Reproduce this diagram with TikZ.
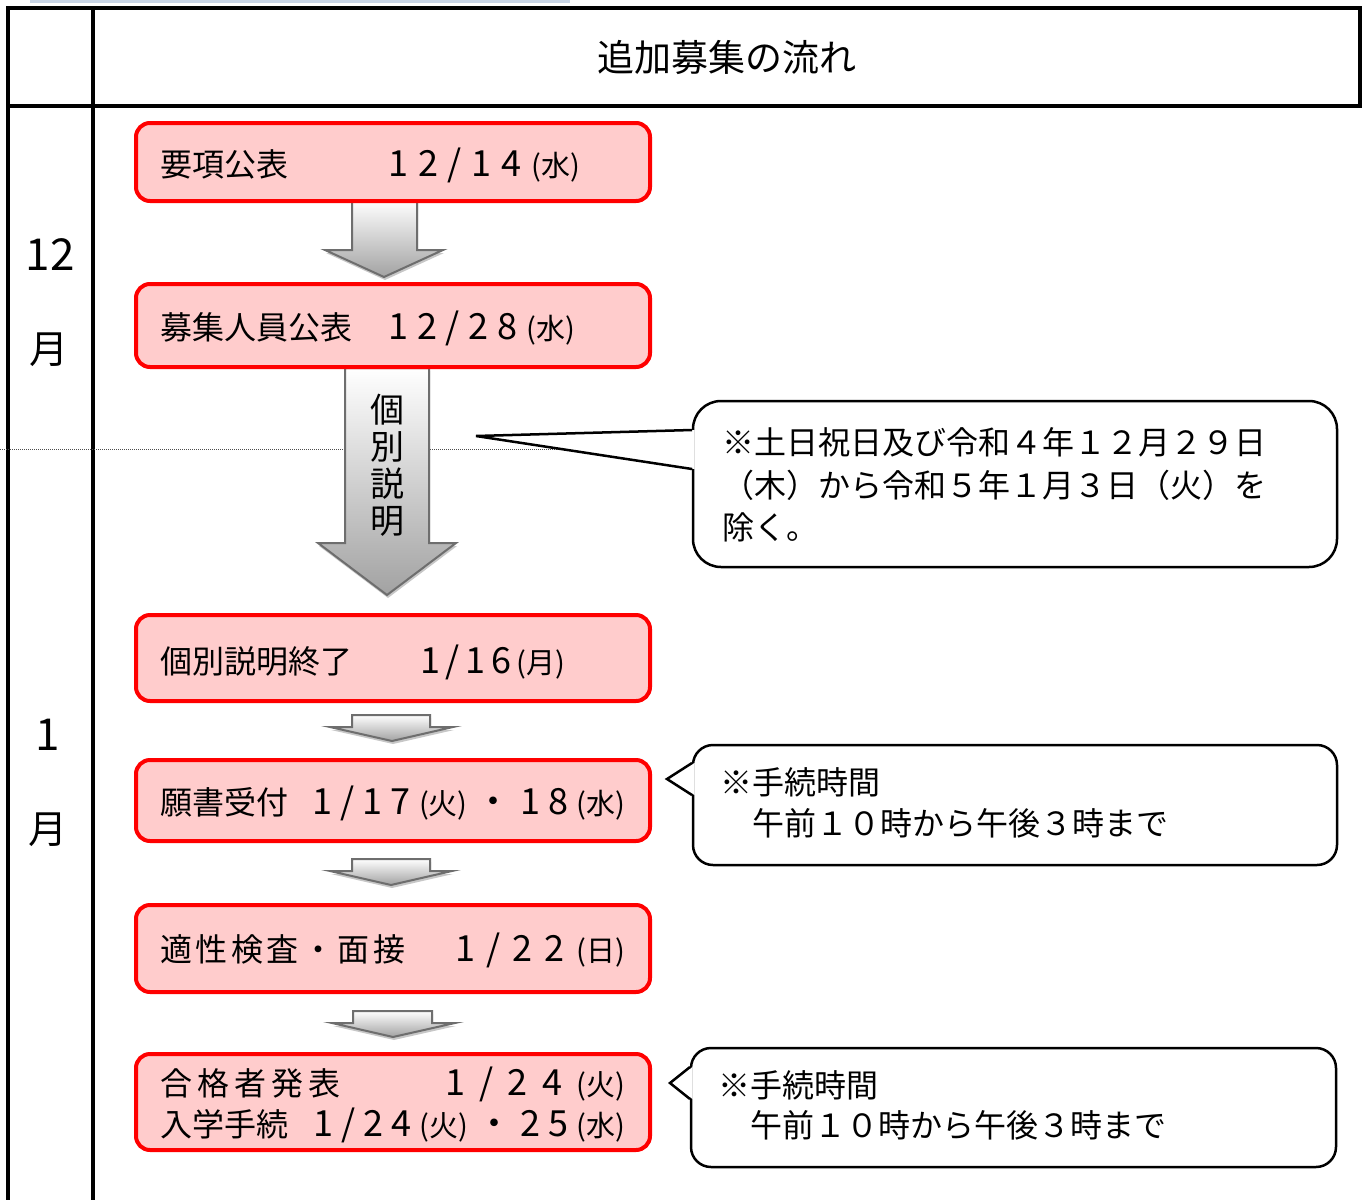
\documentclass[tikz,border=0pt]{standalone}
\usepackage{fontspec}
\setmainfont{Noto Sans CJK JP}
\usetikzlibrary{shadows}
\definecolor{pinkfill}{HTML}{FFCCCC}
\definecolor{boxred}{HTML}{FF0000}
\definecolor{arrowedge}{HTML}{6E6E6E}
\definecolor{arrowbot}{HTML}{A2A2A2}
\definecolor{topbar}{HTML}{C9D5E6}
\newcommand\spreadto[2]{\makebox[#1][s]{\fontsize{36}{38}\selectfont #2}}
\newcommand\pday[1]{{\fontsize{29}{30}\selectfont(#1)}}
\begin{document}
\begin{tikzpicture}[x=1pt,y=-1pt,
  redbox/.style={draw=boxred, line width=4pt, fill=pinkfill, rounded corners=14pt, minimum width=514pt, inner sep=0pt},
  txt/.style={anchor=base west, inner sep=0pt, font=\fontsize{32}{38}\selectfont},
  calloutbox/.style={draw=black, line width=2.5pt, fill=white, inner sep=0pt},
  pointer/.style={draw=black, line width=2.5pt, line join=miter},
  blockarrow/.style={top color=white, bottom color=arrowbot, draw=arrowedge, line width=2pt, line join=miter,
     drop shadow={shadow xshift=1pt, shadow yshift=-3pt, opacity=0.22, fill=black}},
  monthnum/.style={inner sep=0pt, font=\fontsize{44}{44}\selectfont},
  monthlbl/.style={inner sep=0pt, font=\fontsize{39}{40}\selectfont},
  tableline/.style={line width=4pt, line cap=rect}
]
\useasboundingbox (0,0) rectangle (1369,1200);
\fill[white] (0,0) rectangle (1369,1200);

% faint bar at top
\draw[topbar, line width=3pt] (30,1) -- (570,1);

% table
\draw[tableline] (8,1200) -- (8,8) -- (1360,8) -- (1360,106);
\draw[tableline] (8,106) -- (1360,106);
\draw[tableline] (93,8) -- (93,1200);

% dotted month divider
\draw[line width=1pt, dash pattern=on 1pt off 1pt, black!70] (0,449) -- (565,449);

% title
\node[anchor=base, inner sep=0pt, font=\fontsize{37}{40}\selectfont] (title) at (727,71) {追加募集の流れ};

% month labels
\node[monthnum] (m12a) at (50,255) {12};
\node[monthlbl] (m12b) at (49,350) {月};
\node[monthnum] (m1a) at (48,735) {1};
\node[monthlbl] (m1b) at (48,830) {月};

% block arrows
\draw[blockarrow] (352,200) -- (417,200) -- (417,250) -- (443,250) -- (384,277) -- (325,250) -- (352,250) -- cycle;
\draw[blockarrow] (345,368) -- (429,368) -- (429,543) -- (456,543) -- (387,595) -- (318,543) -- (345,543) -- cycle;
\draw[blockarrow] (352,715) -- (430,715) -- (430,727) -- (453,727) -- (392,741) -- (330,727) -- (352,727) -- cycle;
\draw[blockarrow] (352,859) -- (430,859) -- (430,871) -- (452,871) -- (391,885) -- (330,871) -- (352,871) -- cycle;
\draw[blockarrow] (353,1011) -- (432,1011) -- (432,1023) -- (455,1023) -- (393,1037) -- (332,1023) -- (353,1023) -- cycle;

\node[align=center, inner sep=0pt, font=\fontsize{34}{37}\selectfont] (vtext) at (387,465) {個\\別\\説\\明};

% red boxes
\node[redbox, minimum height=78pt] (b1) at (393,162) {};
\node[redbox, minimum height=83pt] (b2) at (393,325.5) {};
\node[redbox, minimum height=86pt] (b3) at (393,658) {};
\node[redbox, minimum height=81pt] (b4) at (393,800.5) {};
\node[redbox, minimum height=87pt] (b5) at (393,948.5) {};
\node[redbox, minimum height=96pt] (b6) at (393,1102) {};

% box texts
\node[txt] (t1a) at (160,176) {要項公表};
\node[txt] (t1b) at (388,176) {\spreadto{192pt}{1\hfil 2\hfil /\hfil 1\hfil 4\hfil \pday{水}}};
\node[txt] (t2a) at (160,339) {募集人員公表};
\node[txt] (t2b) at (388,339) {\spreadto{187pt}{1\hfil 2\hfil /\hfil 2\hfil 8\hfil \pday{水}}};
\node[txt] (t3a) at (160,673) {個別説明終了};
\node[txt] (t3b) at (420,673) {\spreadto{145pt}{1\hfil /\hfil 1\hfil 6\hfil \pday{月}}};
\node[txt] (t4a) at (160,814) {願書受付};
\node[txt] (t4b) at (312,814) {\spreadto{313pt}{1\hfil /\hfil 1\hfil 7\hfil \pday{火}\hfil ・\hfil 1\hfil 8\hfil \pday{水}}};
\node[txt] (t5a) at (160,961) {\makebox[245pt][s]{適\hfil 性\hfil 検\hfil 査\hfil ・\hfil 面\hfil 接}};
\node[txt] (t5b) at (455,961) {\spreadto{170pt}{1\hfil /\hfil 2\hfil 2\hfil \pday{日}}};
\node[txt] (t6a) at (160,1095) {\makebox[180pt][s]{合\hfil 格\hfil 者\hfil 発\hfil 表}};
\node[txt] (t6b) at (445,1095) {\spreadto{180pt}{1\hfil /\hfil 2\hfil 4\hfil \pday{火}}};
\node[txt] (t6c) at (160,1136) {入学手続};
\node[txt] (t6d) at (313,1136) {\spreadto{312pt}{1\hfil /\hfil 2\hfil 4\hfil \pday{火}\hfil ・\hfil 2\hfil 5\hfil \pday{水}}};

% callout 1
\node[calloutbox, rounded corners=28pt, minimum width=644pt, minimum height=166pt] (c1) at (1015,484) {};
\coordinate (p1) at (476,436);
\fill[white] (p1) -- (694.5,430) -- (694.5,469) -- cycle;
\draw[pointer] (692,430) -- (p1) -- (692,469);
\node[txt] (c1l1) at (722,454) {※土日祝日及び令和４年１２月２９日};
\node[txt] (c1l2) at (722,497) {（木）から令和５年１月３日（火）を};
\node[txt] (c1l3) at (722,539) {除く。};

% callout 2
\node[calloutbox, rounded corners=20pt, minimum width=644pt, minimum height=120pt] (c2) at (1015,805) {};
\coordinate (p2) at (667,779);
\fill[white] (p2) -- (694.5,763) -- (694.5,795) -- cycle;
\draw[pointer] (692,763) -- (p2) -- (692,795);
\node[txt] (c2l1) at (720,794) {※手続時間};
\node[txt] (c2l2) at (752,835) {午前１０時から午後３時まで};

% callout 3
\node[calloutbox, rounded corners=20pt, minimum width=645pt, minimum height=119pt] (c3) at (1013.5,1107.5) {};
\coordinate (p3) at (670,1083);
\fill[white] (p3) -- (692.5,1067) -- (692.5,1099) -- cycle;
\draw[pointer] (690,1067) -- (p3) -- (690,1099);
\node[txt] (c3l1) at (718,1097) {※手続時間};
\node[txt] (c3l2) at (750,1137) {午前１０時から午後３時まで};
\end{tikzpicture}
\end{document}
